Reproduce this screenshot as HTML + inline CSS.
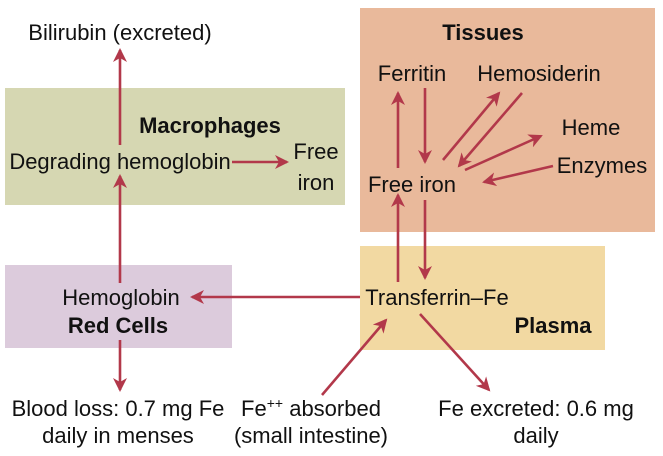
<!DOCTYPE html>
<html><head><meta charset="utf-8">
<style>
html,body{margin:0;padding:0;background:#fff;}
svg{display:block;}
text{font-family:"Liberation Sans",Arial,sans-serif;font-size:22px;fill:#111;}
.b{font-weight:bold;}
.ar{stroke:#b2384a;stroke-width:2.6;fill:none;marker-end:url(#ah);}
</style></head>
<body>
<svg width="663" height="456" viewBox="0 0 663 456">
<defs>
<marker id="ah" markerWidth="14" markerHeight="14" refX="12" refY="7" orient="auto" markerUnits="userSpaceOnUse" viewBox="0 0 14 14">
<path d="M0,0 L14,7 L0,14 L4,7 z" fill="#b2384a"/>
</marker>
</defs>
<rect x="5" y="88" width="340" height="117" fill="#d6d7b2"/>
<rect x="360" y="8" width="295" height="224" fill="#e9b99b"/>
<rect x="5" y="265" width="227" height="83" fill="#dccbdc"/>
<rect x="360" y="246" width="245" height="104" fill="#f2d9a2"/>

<text x="120" y="40" text-anchor="middle">Bilirubin (excreted)</text>
<text x="210" y="133" text-anchor="middle" class="b">Macrophages</text>
<text x="120" y="169" text-anchor="middle">Degrading hemoglobin</text>
<text x="316" y="159" text-anchor="middle">Free</text>
<text x="316" y="190" text-anchor="middle">iron</text>

<text x="483" y="40" text-anchor="middle" class="b">Tissues</text>
<text x="412" y="81" text-anchor="middle">Ferritin</text>
<text x="539" y="81" text-anchor="middle">Hemosiderin</text>
<text x="591" y="135" text-anchor="middle">Heme</text>
<text x="602" y="173" text-anchor="middle">Enzymes</text>
<text x="412" y="192" text-anchor="middle">Free iron</text>

<text x="437" y="305" text-anchor="middle">Transferrin–Fe</text>
<text x="553" y="333" text-anchor="middle" class="b">Plasma</text>
<text x="121" y="305" text-anchor="middle">Hemoglobin</text>
<text x="118" y="333" text-anchor="middle" class="b">Red Cells</text>

<text x="118" y="416" text-anchor="middle">Blood loss: 0.7 mg Fe</text>
<text x="118" y="443" text-anchor="middle">daily in menses</text>
<text x="311" y="416" text-anchor="middle">Fe<tspan font-size="14" dy="-8">++</tspan><tspan dy="8"> absorbed</tspan></text>
<text x="311" y="443" text-anchor="middle">(small intestine)</text>
<text x="536" y="416" text-anchor="middle">Fe excreted: 0.6 mg</text>
<text x="536" y="443" text-anchor="middle">daily</text>

<g>
<line class="ar" x1="120" y1="145" x2="120" y2="50"/>
<line class="ar" x1="120" y1="283" x2="120" y2="176"/>
<line class="ar" x1="120" y1="340" x2="120" y2="390"/>
<line class="ar" x1="232" y1="162" x2="287" y2="162"/>
<line class="ar" x1="360" y1="297" x2="192" y2="297"/>
<line class="ar" x1="398" y1="282" x2="398" y2="195"/>
<line class="ar" x1="425" y1="200" x2="425" y2="278"/>
<line class="ar" x1="398" y1="168" x2="398" y2="93"/>
<line class="ar" x1="425" y1="88" x2="425" y2="162"/>
<line class="ar" x1="443" y1="160" x2="499" y2="93"/>
<line class="ar" x1="522" y1="93" x2="459" y2="166"/>
<line class="ar" x1="465" y1="170" x2="541" y2="136"/>
<line class="ar" x1="553" y1="166" x2="484" y2="182"/>
<line class="ar" x1="322" y1="395" x2="386" y2="320"/>
<line class="ar" x1="420" y1="314" x2="489" y2="390"/>
</g>
</svg>
</body></html>
